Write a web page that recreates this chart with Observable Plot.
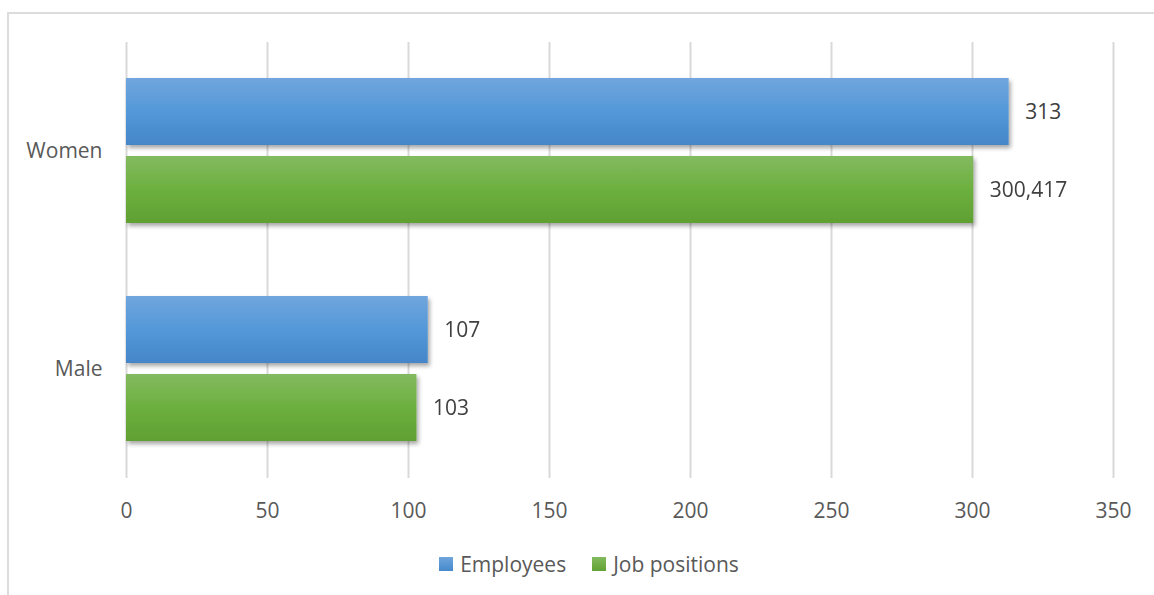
<!DOCTYPE html>
<html>
<head>
<meta charset="utf-8">
<script src="https://cdn.jsdelivr.net/npm/d3@7"></script>
<script src="https://cdn.jsdelivr.net/npm/@observablehq/plot@0.6"></script>
<style>
  html, body { margin: 0; padding: 0; background: #fff; }
  #wrap { position: relative; width: 1154px; height: 595px; overflow: hidden; font-family: "Open Sans", sans-serif; }
  #frame { position: absolute; left: 7px; top: 12px; width: 1200px; height: 620px; border: 2px solid #dcdcdc; box-sizing: border-box; }
  #chart { position: absolute; left: 0; top: 0; }
  #legend { position: absolute; left: 0; width: 1154px; top: 550px; display: flex; justify-content: center; gap: 26px; font-size: 21px; color: #595959; padding-left: 24px; box-sizing: border-box; }
  #legend .item { display: flex; align-items: center; gap: 7px; }
  #legend .sw { width: 14px; height: 14px; display: inline-block; }
</style>
</head>
<body>
<div id="wrap">
  <div id="frame"></div>
  <div id="chart"></div>
  <div id="legend"></div>
</div>
<script>
// ---- data ----
const categories = ["Women", "Male"];
const series = ["Employees", "Job positions"];
const employees = [313, 107];
const jobPositions = [300.417, 103];
const xTicks = [0, 50, 100, 150, 200, 250, 300, 350];

const seriesValues = [employees, jobPositions];
const gradIds = ["gradBlue", "gradGreen"];
const swatchCss = [
  "linear-gradient(#6fa5dc, #4589cc)",
  "linear-gradient(#82ba5e, #62a234)"
];

const rows = [];
categories.forEach((c, i) => {
  series.forEach((s, j) => rows.push({gender: c, series: s, value: seriesValues[j][i]}));
});

const locale = d3.formatLocale({decimal: ",", thousands: ".", grouping: [3], currency: ["", ""]});
const fmt = locale.format("~f");

const defs = () => {
  const d = d3.create("svg:defs");
  const g1 = d.append("linearGradient").attr("id", "gradBlue").attr("x1", 0).attr("y1", 0).attr("x2", 0).attr("y2", 1);
  g1.append("stop").attr("offset", "0%").attr("stop-color", "#70a6dd");
  g1.append("stop").attr("offset", "50%").attr("stop-color", "#5498d9");
  g1.append("stop").attr("offset", "100%").attr("stop-color", "#4486c9");
  const g2 = d.append("linearGradient").attr("id", "gradGreen").attr("x1", 0).attr("y1", 0).attr("x2", 0).attr("y2", 1);
  g2.append("stop").attr("offset", "0%").attr("stop-color", "#83ba60");
  g2.append("stop").attr("offset", "50%").attr("stop-color", "#6cb03e");
  g2.append("stop").attr("offset", "100%").attr("stop-color", "#60a032");
  const f = d.append("filter").attr("id", "shadow").attr("x", "-5%").attr("y", "-20%").attr("width", "115%").attr("height", "150%");
  f.append("feDropShadow").attr("dx", 2).attr("dy", 3).attr("stdDeviation", 2.2).attr("flood-color", "#000").attr("flood-opacity", 0.35);
  return d.node();
};

const chart = Plot.plot({
  width: 1154,
  height: 540,
  marginLeft: 126,
  marginRight: 41,
  marginTop: 42,
  marginBottom: 62,
  style: {fontFamily: "Open Sans, sans-serif", fontSize: "21px", color: "#595959", background: "transparent"},
  x: {domain: [0, 350], ticks: xTicks, label: null, tickSize: 0, tickPadding: 25},
  y: {domain: series, axis: null, paddingInner: 0.14, paddingOuter: 0.467},
  fy: {domain: categories, axis: "left", label: null, padding: 0, tickSize: 0, tickPadding: 24},
  marks: [
    defs,
    Plot.gridX(xTicks, {stroke: "#d9d9d9", strokeOpacity: 1, strokeWidth: 2}),
    ...series.map((s, j) => Plot.barX(rows.filter(r => r.series === s), {
      x: "value", y: "series", fy: "gender",
      fill: `url(#${gradIds[j]})`
    })),
    Plot.text(rows, {
      x: "value", y: "series", fy: "gender",
      text: d => fmt(d.value),
      textAnchor: "start", dx: 16, fill: "#404040", fontSize: 21
    })
  ]
});

d3.select(chart).selectAll("g[aria-label='bar']").attr("filter", "url(#shadow)");
document.getElementById("chart").appendChild(chart);

const legend = document.getElementById("legend");
series.forEach((s, j) => {
  const item = document.createElement("span");
  item.className = "item";
  const sw = document.createElement("span");
  sw.className = "sw";
  sw.style.background = swatchCss[j];
  item.appendChild(sw);
  item.appendChild(document.createTextNode(s));
  legend.appendChild(item);
});
</script>
</body>
</html>
